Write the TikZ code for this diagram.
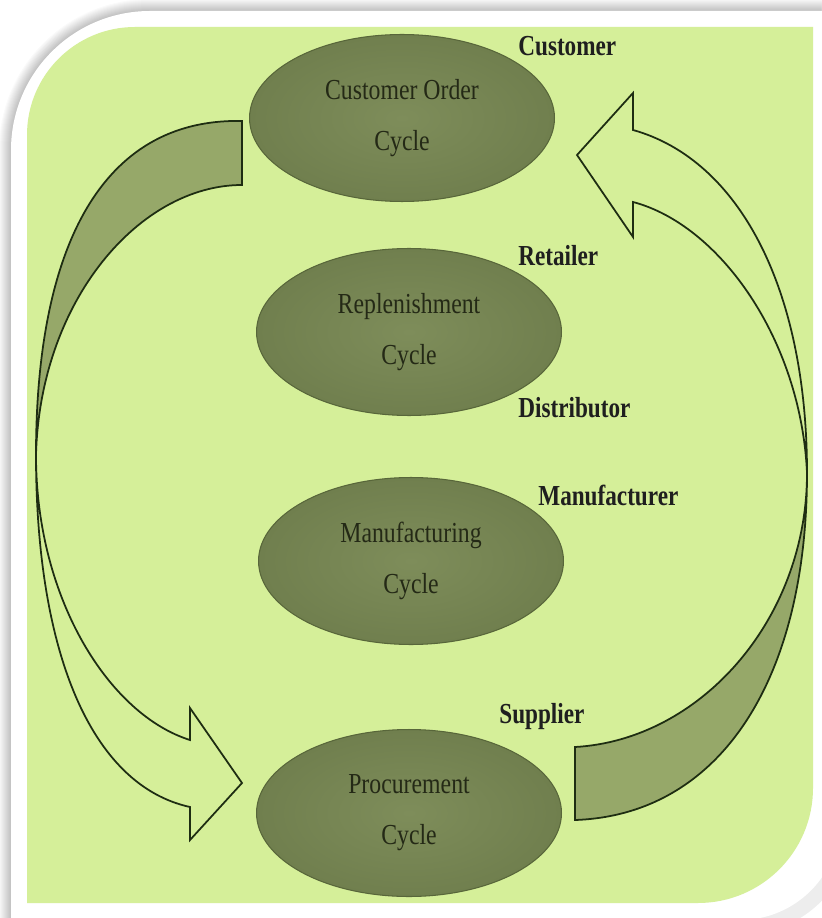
\documentclass[tikz,border=0pt]{standalone}
\usepackage{fontspec}
\usepackage{xcolor}
\usepackage{tikz}
\usetikzlibrary{positioning}
\usetikzlibrary{shapes.geometric}
\newfontfamily\cyclefont[FakeStretch=0.82]{Liberation Serif}
\newfontfamily\rolefont[FakeStretch=0.80]{Liberation Serif}
\definecolor{panelgreen}{RGB}{213,239,153}
\definecolor{cycleinner}{RGB}{126,141,90}
\definecolor{cycleouter}{RGB}{112,127,78}
\definecolor{cycleedge}{RGB}{88,102,58}
\definecolor{cycletext}{RGB}{36,41,22}
\definecolor{bandolive}{RGB}{150,168,105}
\definecolor{arrowline}{RGB}{30,45,18}

\begin{document}
\begin{tikzpicture}[x=0.02cm,y=-0.02cm,
	cyclebox/.style={ellipse,draw=cycleedge,line width=0.6pt,inner color=cycleinner,outer color=cycleouter,minimum width=6.1cm,minimum height=3.34cm,inner sep=0pt,align=center,text=cycletext,font=\cyclefont\fontsize{16.5}{29}\selectfont},
	role/.style={anchor=base west,inner sep=0pt,text=black!88,font=\rolefont\bfseries\fontsize{16.5}{20}\selectfont},
	band/.style={draw=arrowline,line width=1pt,line join=miter}]
	\useasboundingbox (0,0) rectangle (821,918);
	\fill[white] (0,0) rectangle (821,918);
	\foreach \k in {1,...,12}
		\fill[black,opacity=0.018] (11-\k,1000) -- (11-\k,150) arc[start angle=180,end angle=270,radius=139+\k] -- (1000,11-\k) -- (1000,600) -- (600,1000) -- cycle;
	\fill[black,opacity=0.07] (740,820) circle (115);
	\fill[white] (11,1000) -- (11,150) arc[start angle=180,end angle=270,radius=139] -- (1000,11) -- (840,11) -- (840,820) arc[start angle=0,end angle=90,radius=100] -- cycle;
	\fill[panelgreen] (27,903) -- (27,135) arc[start angle=180,end angle=270,radius=108] -- (813,27) -- (813,788) arc[start angle=0,end angle=90,radius=115] -- cycle;

	\node[cyclebox] (custorder) at (402,118) {Customer Order\\Cycle};
	\node[cyclebox] (replen) at (409,332) {Replenishment\\Cycle};
	\node[cyclebox] (manuf) at (411,561) {Manufacturing\\Cycle};
	\node[cyclebox] (procure) at (409,813) {Procurement\\Cycle};

	\node[role] (customer) at (518,56) {Customer};
	\node[role] (retailer) at (518,266) {Retailer};
	\node[role] (distributor) at (518,417) {Distributor};
	\node[role] (manufacturer) at (538,505) {Manufacturer};
	\node[role] (supplier) at (499,723) {Supplier};

	\filldraw[band,fill=bandolive] (242,121) .. controls (100,118) and (36,250) .. (36,455) .. controls (40,300) and (140,185) .. (242,185) -- cycle;
	\draw[band] (36,455) .. controls (36,600) and (110,715) .. (190,740) -- (190,708) -- (242,783) -- (190,840) -- (190,807) .. controls (90,785) and (36,650) .. (36,455);

	\filldraw[band,fill=bandolive] (575,747) .. controls (700,740) and (807,620) .. (807,473) .. controls (807,680) and (720,815) .. (575,820) -- cycle;
	\draw[band] (807,473) .. controls (807,290) and (740,160) .. (633,130) -- (633,93) -- (577,155) -- (633,237) -- (633,202) .. controls (720,225) and (801,340) .. (807,473);
\end{tikzpicture}
\end{document}
